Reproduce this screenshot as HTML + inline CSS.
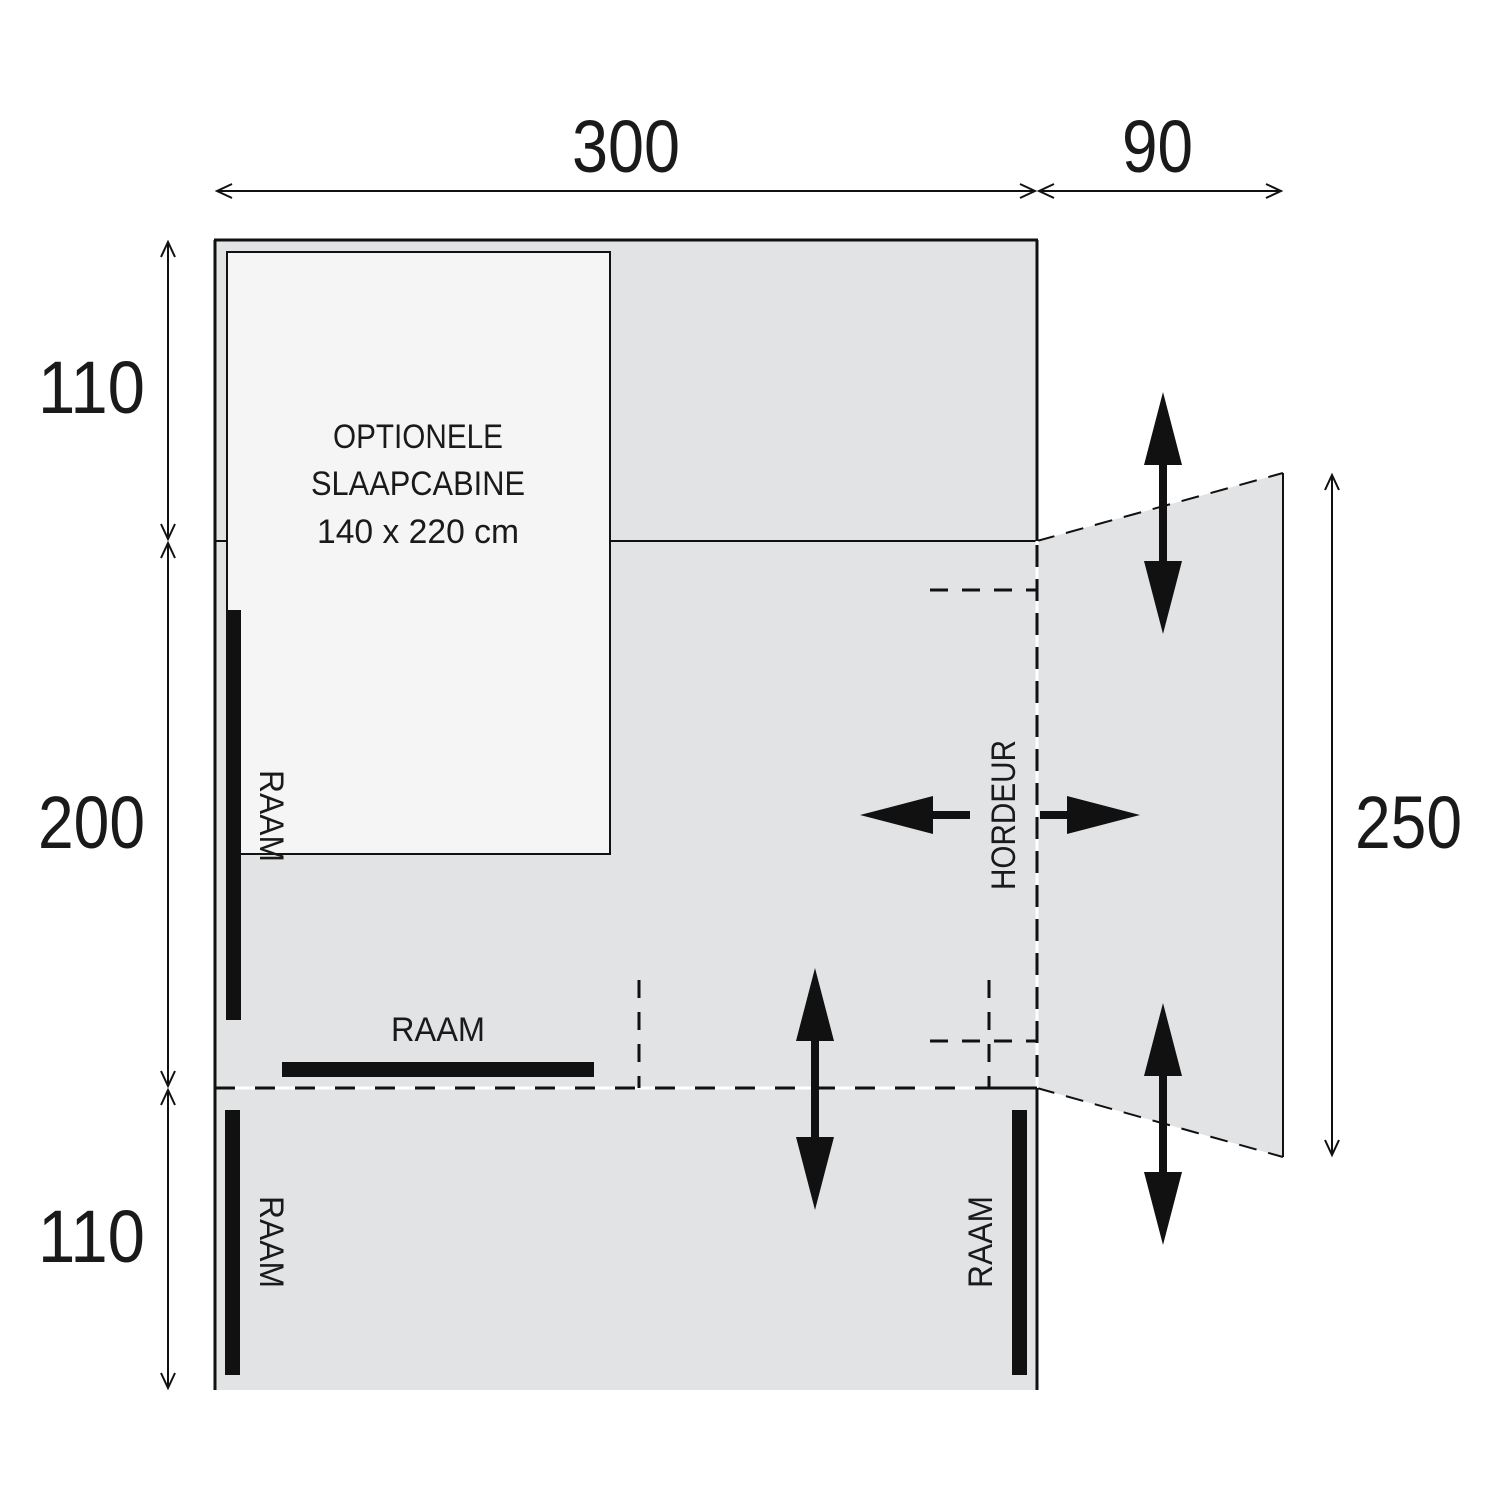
<!DOCTYPE html>
<html><head><meta charset="utf-8"><style>
html,body{margin:0;padding:0;background:#fff;}
svg{display:block}
text{font-family:"Liberation Sans Narrow","Liberation Sans",sans-serif;fill:#1a1a1a}
</style></head><body>
<svg width="1500" height="1500" viewBox="0 0 1500 1500" xmlns="http://www.w3.org/2000/svg">
<defs>
<g id="vdbl">
<polygon points="0,-121 -19,-48 19,-48" fill="#111"/>
<rect x="-4" y="-50" width="8" height="100" fill="#111"/>
<polygon points="0,121 -19,48 19,48" fill="#111"/>
</g>
</defs>
<rect x="215" y="240" width="822" height="1150" fill="#e1e3e4"/>
<polygon points="1037,541 1283,473 1283,1157 1037,1088" fill="#e1e3e4"/>
<line x1="1037" y1="541" x2="1283" y2="473" stroke="#111" stroke-width="2" stroke-dasharray="18,12"/>
<line x1="1037" y1="1088" x2="1283" y2="1157" stroke="#111" stroke-width="2" stroke-dasharray="18,12"/>
<line x1="1283" y1="473" x2="1283" y2="1157" stroke="#111" stroke-width="2"/>
<line x1="215" y1="240" x2="215" y2="1390" stroke="#111" stroke-width="3"/>
<line x1="214" y1="240" x2="1038" y2="240" stroke="#111" stroke-width="3"/>
<line x1="1037" y1="240" x2="1037" y2="541" stroke="#111" stroke-width="3"/>
<line x1="1037" y1="1088" x2="1037" y2="1390" stroke="#111" stroke-width="3"/>
<line x1="215" y1="541" x2="1037" y2="541" stroke="#111" stroke-width="2"/>
<line x1="1037" y1="541" x2="1037" y2="1088" stroke="#fff" stroke-width="3"/>
<line x1="1037" y1="545" x2="1037" y2="1088" stroke="#111" stroke-width="3" stroke-dasharray="22,12"/>
<line x1="215" y1="1088" x2="1037" y2="1088" stroke="#fff" stroke-width="3"/>
<line x1="215" y1="1088" x2="1037" y2="1088" stroke="#111" stroke-width="3" stroke-dasharray="20,20"/>
<line x1="930" y1="590" x2="1037" y2="590" stroke="#111" stroke-width="3" stroke-dasharray="18,14"/>
<line x1="930" y1="1041" x2="1037" y2="1041" stroke="#111" stroke-width="3" stroke-dasharray="18,14"/>
<line x1="989" y1="980" x2="989" y2="1088" stroke="#111" stroke-width="3" stroke-dasharray="18,14"/>
<line x1="989" y1="1088" x2="1037" y2="1088" stroke="#111" stroke-width="3"/>
<line x1="639" y1="980" x2="639" y2="1088" stroke="#111" stroke-width="3" stroke-dasharray="18,14"/>
<rect x="227" y="252" width="383" height="602" fill="#f5f5f5" stroke="#111" stroke-width="2"/>
<text x="333" y="448" font-size="34" textLength="170" lengthAdjust="spacingAndGlyphs">OPTIONELE</text>
<text x="311" y="495" font-size="34" textLength="214" lengthAdjust="spacingAndGlyphs">SLAAPCABINE</text>
<text x="317" y="543" font-size="34" textLength="202" lengthAdjust="spacingAndGlyphs">140 x 220 cm</text>
<rect x="226" y="610" width="15" height="410" fill="#111"/>
<rect x="282" y="1062" width="312" height="15" fill="#111"/>
<rect x="225" y="1110" width="15" height="265" fill="#111"/>
<rect x="1012" y="1110" width="15" height="265" fill="#111"/>
<text transform="translate(260,770) rotate(90)" font-size="34" textLength="92" lengthAdjust="spacingAndGlyphs">RAAM</text>
<text x="391" y="1041" font-size="34" textLength="94" lengthAdjust="spacingAndGlyphs">RAAM</text>
<text transform="translate(260,1196) rotate(90)" font-size="34" textLength="92" lengthAdjust="spacingAndGlyphs">RAAM</text>
<text transform="translate(992,1288) rotate(-90)" font-size="34" textLength="92" lengthAdjust="spacingAndGlyphs">RAAM</text>
<text transform="translate(1015,890) rotate(-90)" font-size="34" textLength="150" lengthAdjust="spacingAndGlyphs">HORDEUR</text>
<use href="#vdbl" x="1163" y="513"/>
<use href="#vdbl" x="815" y="1089"/>
<use href="#vdbl" x="1163" y="1124"/>
<polygon points="860,815 933,796 933,834" fill="#111"/>
<rect x="930" y="811" width="40" height="8" fill="#111"/>
<polygon points="1140,815 1067,796 1067,834" fill="#111"/>
<rect x="1040" y="811" width="30" height="8" fill="#111"/>
<g stroke="#111" stroke-width="2" fill="none">
<line x1="217" y1="191" x2="1035" y2="191"/>
<line x1="1039" y1="191" x2="1281" y2="191"/>
<line x1="168" y1="242" x2="168" y2="539"/>
<line x1="168" y1="543" x2="168" y2="1086"/>
<line x1="168" y1="1090" x2="168" y2="1388"/>
<line x1="1332" y1="475" x2="1332" y2="1155"/>
<polyline points="232,184 217,191 232,198"/>
<polyline points="1020,184 1035,191 1020,198"/>
<polyline points="1054,184 1039,191 1054,198"/>
<polyline points="1266,184 1281,191 1266,198"/>
<polyline points="161,257 168,242 175,257"/>
<polyline points="161,524 168,539 175,524"/>
<polyline points="161,558 168,543 175,558"/>
<polyline points="161,1071 168,1086 175,1071"/>
<polyline points="161,1105 168,1090 175,1105"/>
<polyline points="161,1373 168,1388 175,1373"/>
<polyline points="1325,490 1332,475 1339,490"/>
<polyline points="1325,1140 1332,1155 1339,1140"/>
</g>
<text x="572" y="172" font-size="74" textLength="108" lengthAdjust="spacingAndGlyphs">300</text>
<text x="1122" y="172" font-size="74" textLength="71" lengthAdjust="spacingAndGlyphs">90</text>
<text x="38" y="413" font-size="74" textLength="107" lengthAdjust="spacingAndGlyphs">110</text>
<text x="38" y="848" font-size="74" textLength="107" lengthAdjust="spacingAndGlyphs">200</text>
<text x="38" y="1262" font-size="74" textLength="107" lengthAdjust="spacingAndGlyphs">110</text>
<text x="1355" y="848" font-size="74" textLength="107" lengthAdjust="spacingAndGlyphs">250</text>
</svg>
</body></html>
